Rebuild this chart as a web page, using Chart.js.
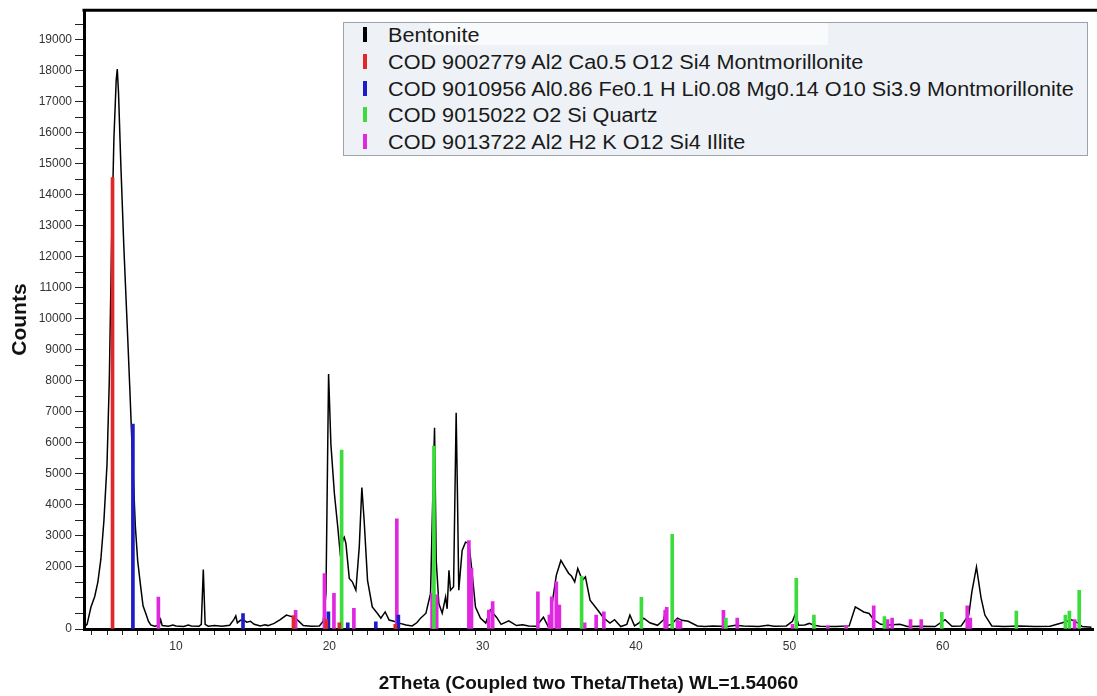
<!DOCTYPE html>
<html>
<head>
<meta charset="utf-8">
<script src="https://cdn.jsdelivr.net/npm/chart.js@4.4.1/dist/chart.umd.min.js"></script>
<style>
  body { margin: 0; background: #fff; }
  #wrap { position: relative; width: 1097px; height: 696px; }
  #legend {
    position: absolute; left: 343px; top: 22px; width: 745px; height: 134px;
    background: #eef2f6; border: 1px solid #9ba4ad; box-sizing: border-box;
    font-family: "Liberation Sans", Arial, sans-serif; font-size: 19.5px; color: #1a1a1a;
  }
  #legendPatch { position: absolute; left: 86px; top: 0; width: 398px; height: 22px; background: #f8fafc; }
  .row { position: absolute; left: 0; height: 26px; line-height: 26px; white-space: nowrap; }
  .mark { position: absolute; left: 19px; top: 5px; width: 4px; height: 15px; }
  .txt { position: absolute; left: 44px; top: 0; transform: scaleX(1.11); transform-origin: left center; }
</style>
</head>
<body>
<div id="wrap">
  <canvas id="myChart" width="1097" height="696"></canvas>
  <div id="legend"><div id="legendPatch"></div></div>
</div>
<script>
const seriesNames = [
  "Bentonite",
  "COD 9002779 Al2 Ca0.5 O12 Si4 Montmorillonite",
  "COD 9010956 Al0.86 Fe0.1 H Li0.08 Mg0.14 O10 Si3.9 Montmorillonite",
  "COD 9015022 O2 Si Quartz",
  "COD 9013722 Al2 H2 K O12 Si4 Illite",
];
const seriesColors = ["#000000", "#e02828", "#1c1cc8", "#3cdc3c", "#e028e0"];

const yTickLabels = [0, 2000, 3000, 4000, 5000, 6000, 7000, 8000, 9000, 10000,
  11000, 12000, 13000, 14000, 15000, 16000, 17000, 18000, 19000];
const xTickLabels = [10, 20, 30, 40, 50, 60];

// measured pattern: [2theta, counts]
const bentonite = [
  [4.0, 60], [4.2, 150], [4.45, 700], [4.7, 1050], [4.9, 1500], [5.1, 2250], [5.3, 3500],
  [5.5, 5300], [5.65, 8000], [5.8, 12500], [5.95, 15800], [6.1, 17700], [6.17, 18050],
  [6.25, 17300], [6.4, 15000], [6.6, 12300], [6.85, 9400], [7.0, 7600], [7.18, 5300],
  [7.35, 3300], [7.5, 2200], [7.7, 1350], [7.85, 750], [8.03, 500], [8.2, 250], [8.35, 130],
  [8.6, 90], [8.9, 120], [9.0, 300], [9.1, 110], [9.5, 90], [9.8, 130], [10.0, 100],
  [10.5, 80], [10.8, 130], [11.0, 100], [11.5, 90], [11.65, 150], [11.78, 1920], [11.9, 150],
  [12.1, 90], [12.5, 110], [13.0, 90], [13.5, 120], [13.77, 300], [13.9, 420], [14.0, 200],
  [14.2, 280], [14.4, 300], [14.6, 220], [14.85, 250], [15.1, 150], [15.5, 100], [15.8, 140],
  [16.0, 110], [16.4, 180], [16.8, 300], [17.2, 450], [17.55, 400], [17.9, 300], [18.3, 110],
  [18.8, 90], [19.35, 100], [19.6, 250], [19.78, 1150], [19.95, 8220], [20.1, 5960],
  [20.33, 4360], [20.55, 3280], [20.7, 2480], [20.9, 2900], [20.97, 2960], [21.08, 2760],
  [21.3, 1630], [21.5, 1520], [21.73, 1250], [21.95, 2640], [22.12, 4560], [22.27, 3490],
  [22.49, 1570], [22.8, 710], [23.14, 500], [23.36, 350], [23.64, 550], [23.9, 290],
  [24.2, 250], [24.55, 190], [25.0, 130], [25.4, 100], [25.7, 200], [25.95, 350],
  [26.3, 510], [26.6, 1150], [26.75, 4360], [26.86, 6490], [26.97, 2210], [27.14, 820],
  [27.36, 510], [27.58, 1030], [27.68, 650], [27.8, 1890], [27.9, 1250], [28.1, 1360],
  [28.27, 6970], [28.36, 4140], [28.44, 1250], [28.66, 2530], [28.88, 2800], [29.1, 2760],
  [29.27, 2000], [29.53, 710], [29.85, 350], [30.2, 190], [30.5, 610], [30.9, 380],
  [31.2, 150], [31.7, 260], [32.2, 110], [32.6, 140], [33.0, 100], [33.5, 90], [33.96, 380],
  [34.3, 50], [34.8, 1730], [35.1, 2210], [35.35, 2000], [35.6, 1800], [35.8, 1700],
  [36.0, 1520], [36.2, 1950], [36.5, 1570], [36.7, 1680], [37.0, 930], [37.5, 610],
  [37.9, 350], [38.3, 190], [38.6, 300], [39.0, 80], [39.4, 150], [39.6, 450], [39.9, 100],
  [40.2, 200], [40.5, 350], [40.9, 200], [41.4, 120], [41.8, 300], [41.9, 550], [41.95, 100],
  [42.3, 150], [42.7, 350], [43.0, 280], [43.4, 250], [44.0, 100], [44.5, 80], [45.0, 100],
  [45.5, 90], [46.0, 80], [46.5, 120], [47.0, 100], [48.0, 80], [48.6, 120], [49.0, 90],
  [49.8, 100], [50.2, 250], [50.4, 500], [50.6, 120], [51.0, 130], [51.3, 180], [51.6, 120],
  [52.0, 90], [53.0, 80], [53.9, 100], [54.3, 710], [54.85, 550], [55.2, 500], [55.5, 300],
  [55.95, 150], [56.5, 130], [57.2, 150], [57.7, 80], [58.5, 90], [59.5, 80], [60.15, 300],
  [60.6, 90], [61.2, 100], [61.7, 450], [61.9, 1200], [62.2, 2000], [62.5, 1000],
  [62.75, 450], [63.2, 100], [64.0, 80], [65.0, 100], [66.0, 80], [67.0, 90], [67.8, 200],
  [68.4, 300], [68.8, 200], [69.1, 80], [69.7, 60],
];

// reference sticks: [2theta, counts]
const montmoCa = [[5.86, 14550], [17.66, 430], [19.8, 300], [20.65, 200], [24.3, 150]];
const montmoLi = [[7.19, 6610], [14.37, 500], [19.94, 550], [21.2, 200], [23.03, 230], [24.5, 450]];
const quartz = [
  [20.8, 5770], [26.82, 5900], [36.45, 1700], [40.35, 1020], [42.36, 3050], [45.86, 350],
  [50.45, 1630], [51.6, 450], [56.2, 400], [59.94, 540], [64.8, 580], [68.0, 450],
  [68.26, 580], [68.9, 1250],
];
const illite = [
  [8.85, 1030], [17.8, 600], [19.68, 1790], [20.3, 1150], [21.6, 670], [24.4, 3550],
  [26.7, 1150], [26.85, 1100], [27.0, 1100], [29.1, 2850], [29.27, 1960], [30.4, 610],
  [30.65, 880], [33.6, 1200], [34.35, 450], [34.5, 1040], [34.8, 1520], [34.9, 770],
  [35.0, 770], [36.65, 200], [37.4, 450], [37.9, 550], [41.9, 600], [42.0, 700], [42.7, 300],
  [42.9, 250], [45.7, 600], [46.6, 350], [50.2, 150], [52.5, 100], [53.7, 100], [55.5, 750],
  [56.4, 300], [56.7, 350], [57.9, 300], [58.6, 300], [61.6, 750], [61.8, 350], [68.6, 300],
];

const yMin = 0;
const yMax = 19950;
const yStep = 500;

const toPoints = (pairs) => pairs.map((p) => ({ x: p[0], y: p[1] }));

const stickDataset = (pairs, idx, order) => ({
  type: "bar",
  label: seriesNames[idx],
  data: toPoints(pairs),
  backgroundColor: seriesColors[idx],
  barThickness: 3,
  grouped: false,
  order: order,
});

const agregarFilaLegend = (name, color, i) => {
  const legend = document.getElementById("legend");
  const row = document.createElement("div");
  row.className = "row";
  row.style.top = -1 + i * 26.8 + "px";
  const mark = document.createElement("span");
  mark.className = "mark";
  mark.style.background = color;
  const txt = document.createElement("span");
  txt.className = "txt";
  txt.textContent = name;
  row.appendChild(mark);
  row.appendChild(txt);
  legend.appendChild(row);
};

seriesNames.forEach((n, i) => agregarFilaLegend(n, seriesColors[i], i));

// ticks every 500 counts, labels only where listed
const buildYTicks = (scale) => {
  const ticks = [];
  for (let v = yMin; v < yMax; v += yStep) {
    ticks.push({ value: v });
  }
  scale.ticks = ticks;
};

const topFrame = {
  id: "topFrame",
  afterDraw: (chart) => {
    const ctx = chart.ctx;
    const a = chart.chartArea;
    ctx.save();
    ctx.strokeStyle = "#000";
    ctx.lineWidth = 3;
    ctx.beginPath();
    ctx.moveTo(a.left - 1.5, a.top);
    ctx.lineTo(chart.width, a.top);
    ctx.stroke();
    ctx.restore();
  },
};

const tickFont = { family: "'Liberation Sans', Arial, sans-serif", size: 12 };

const grafico = new Chart(document.getElementById("myChart"), {
  type: "bar",
  data: {
    datasets: [
      {
        type: "line",
        label: seriesNames[0],
        data: toPoints(bentonite),
        borderColor: seriesColors[0],
        borderWidth: 1.5,
        pointRadius: 0,
        tension: 0,
        order: 10,
      },
      stickDataset(illite, 4, 5),
      stickDataset(quartz, 3, 4),
      stickDataset(montmoLi, 2, 3),
      stickDataset(montmoCa, 1, 2),
    ],
  },
  options: {
    responsive: false,
    animation: false,
    layout: { padding: { top: 8, right: 2, left: 0, bottom: 0 } },
    plugins: { legend: { display: false }, tooltip: { enabled: false } },
    scales: {
      x: {
        type: "linear",
        min: 4.0,
        max: 69.8,
        offset: false,
        afterFit: (scale) => { scale.height = 67; },
        border: { display: true, color: "#000", width: 3 },
        grid: { drawOnChartArea: false, tickLength: 6, color: "#222", tickWidth: 1 },
        ticks: {
          stepSize: 1,
          autoSkip: false,
          maxRotation: 0,
          color: "#333",
          font: tickFont,
          padding: 4,
          callback: (v) => (xTickLabels.includes(v) ? String(v) : ""),
        },
        title: {
          display: true,
          text: "2Theta (Coupled two Theta/Theta) WL=1.54060",
          color: "#111",
          font: { family: "'Liberation Sans', Arial, sans-serif", size: 19, weight: "bold" },
          padding: { top: 0, bottom: 1 },
        },
      },
      y: {
        type: "linear",
        min: yMin,
        max: yMax,
        afterFit: (scale) => { scale.width = 84; },
        afterBuildTicks: buildYTicks,
        border: { display: true, color: "#000", width: 3 },
        grid: { drawOnChartArea: false, tickLength: 9, color: "#222", tickWidth: 1 },
        ticks: {
          autoSkip: false,
          color: "#333",
          font: tickFont,
          padding: 3,
          callback: (v) => (yTickLabels.includes(v) ? String(v) : ""),
        },
        title: {
          display: true,
          text: "Counts",
          color: "#111",
          font: { family: "'Liberation Sans', Arial, sans-serif", size: 21, weight: "bold" },
          padding: { top: 8, bottom: 0 },
        },
      },
    },
  },
  plugins: [topFrame],
});
</script>
</body>
</html>
